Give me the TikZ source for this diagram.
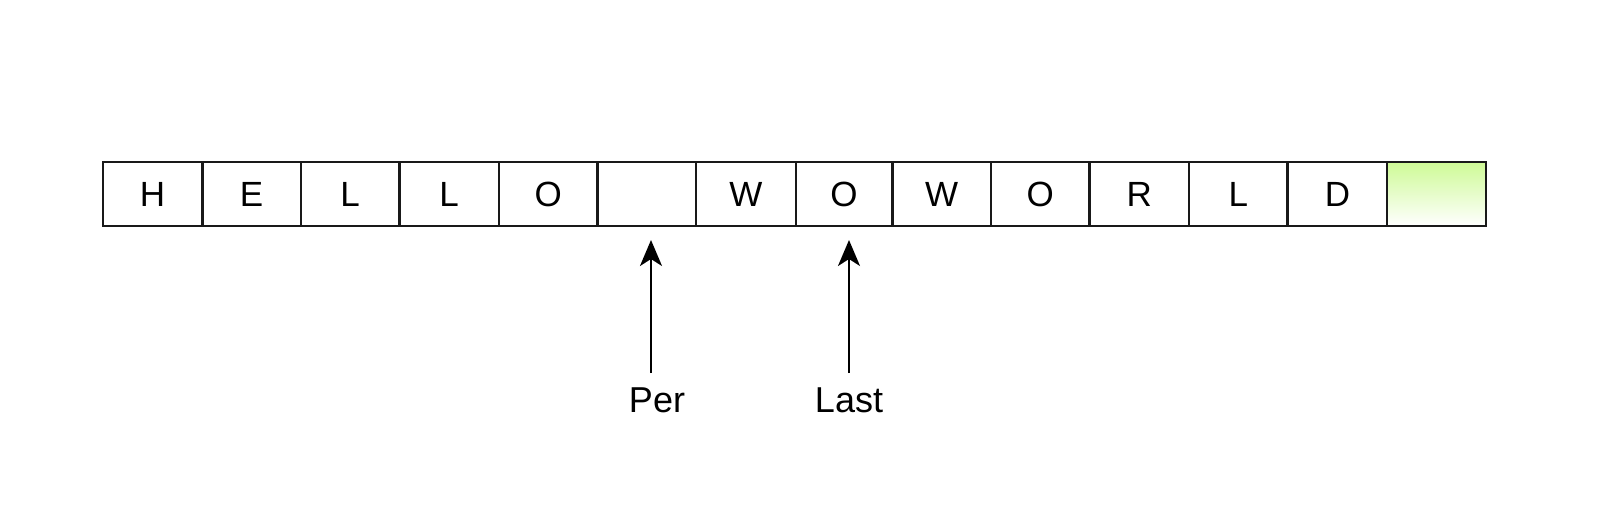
\documentclass[tikz,border=0pt]{standalone}
\usepackage{fontspec}
\setmainfont{Liberation Sans}
\usetikzlibrary{arrows.meta}
\definecolor{lightlime}{RGB}{206,250,150}
\begin{document}
\begin{tikzpicture}[x=1pt,y=-1pt,
  cellbox/.style={draw=black!90, line width=2.4pt, inner sep=0pt, minimum height=64pt, text height=25pt, text depth=0pt, font=\fontsize{35}{40}\selectfont},
  pointer/.style={line width=2pt, -{Stealth[length=26pt,width=22pt,inset=7pt]}},
  lbl/.style={inner sep=0pt, font=\fontsize{36}{42}\selectfont, anchor=base}]
\useasboundingbox (0,0) rectangle (1610,512);
\fill[white] (0,0) rectangle (1610,512);
\foreach \i/\l/\r/\t in {1/102.7/202.3/H, 2/202.3/300.9/E, 3/300.9/399.4/L, 4/399.4/499.0/L, 5/499.0/597.6/O, 6/597.6/696.2/{}, 7/696.2/795.8/W, 8/795.8/892.3/O, 9/892.3/990.9/W, 10/990.9/1089.4/O, 11/1089.4/1189.0/R, 12/1189.0/1287.6/L, 13/1287.6/1387.2/D}{
  \pgfmathsetmacro\w{\r-\l}
  \pgfmathsetmacro\cx{(\l+\r)/2}
  \node[cellbox, minimum width=\w pt] (c\i) at (\cx,194) {\t};
}
\shade[top color=lightlime, bottom color=white] (1387.2,162) rectangle (1485.8,226);
\node[cellbox, minimum width=98.6pt] (c14) at (1436.5,194) {};
\node[lbl] (per) at (657,412) {Per};
\node[lbl] (last) at (849,412) {Last};
\coordinate (pertail) at (651,373);
\coordinate (pertip) at (651,240);
\coordinate (lasttail) at (849,373);
\coordinate (lasttip) at (849,240);
\draw[pointer] (pertail) -- (pertip);
\draw[pointer] (lasttail) -- (lasttip);
\end{tikzpicture}
\end{document}
